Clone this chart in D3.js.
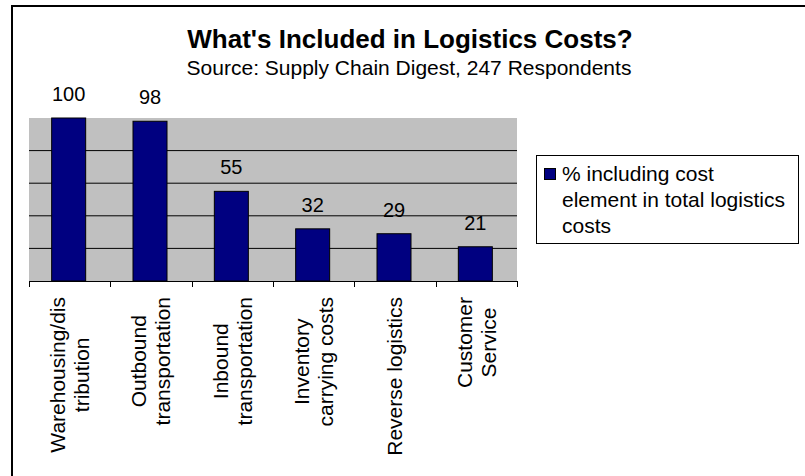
<!DOCTYPE html>
<html>
<head>
<meta charset="utf-8">
<script src="https://cdn.jsdelivr.net/npm/d3@7"></script>
<style>
  body { margin: 0; background: #fff; }
  svg text { font-family: "Liberation Sans", Arial, sans-serif; fill: #000; }
</style>
</head>
<body>
<svg id="chart" width="805" height="476"></svg>
<script>
// data
const categories = ["Warehousing/distribution", "Outbound transportation", "Inbound transportation",
  "Inventory carrying costs", "Reverse logistics", "Customer Service"];
const catLines = [["Warehousing/dis", "tribution"], ["Outbound", "transportation"], ["Inbound", "transportation"],
  ["Inventory", "carrying costs"], ["Reverse logistics"], ["Customer", "Service"]];
const values = [100, 98, 55, 32, 29, 21];
const gridValues = [20, 40, 60, 80];
const titleText = "What's Included in Logistics Costs?";
const subtitleText = "Source: Supply Chain Digest, 247 Respondents";
const legendLines = ["% including cost", "element in total logistics", "costs"];

const svg = d3.select("#chart");

// outer chart frame (cut off at right/bottom like the original)
svg.append("rect")
  .attr("x", 12).attr("y", 6).attr("width", 900).attr("height", 600)
  .attr("fill", "#fff").attr("stroke", "#000").attr("stroke-width", 2);

const plot = { left: 29, right: 517, top: 118, bottom: 281 };

const x = d3.scaleBand().domain(categories).range([plot.left, plot.right]).padding(0);
const y = d3.scaleLinear().domain([0, 100]).range([plot.bottom, plot.top]);
const barW = 34;

// gray plot area
svg.append("rect")
  .attr("x", plot.left).attr("y", plot.top)
  .attr("width", plot.right - plot.left).attr("height", plot.bottom - plot.top)
  .attr("fill", "#c0c0c0");

// gridlines
svg.selectAll(".grid").data(gridValues).enter().append("line")
  .attr("class", "grid")
  .attr("x1", plot.left).attr("x2", plot.right)
  .attr("y1", d => y(d)).attr("y2", d => y(d))
  .attr("stroke", "#000").attr("stroke-width", 1);

// bars
svg.selectAll(".bar").data(values).enter().append("rect")
  .attr("class", "bar")
  .attr("x", (d, i) => x(categories[i]) + x.bandwidth() / 2 - barW / 2 - 1)
  .attr("y", d => y(d))
  .attr("width", barW)
  .attr("height", d => y(0) - y(d))
  .attr("fill", "#000080").attr("stroke", "#000").attr("stroke-width", 1);

// value labels
svg.selectAll(".val").data(values).enter().append("text")
  .attr("class", "val")
  .attr("x", (d, i) => x(categories[i]) + x.bandwidth() / 2 - 1)
  .attr("y", d => y(d) - 17)
  .attr("text-anchor", "middle")
  .style("font-size", "20px")
  .text(d => d);

// x axis line + ticks at band edges
svg.append("line")
  .attr("x1", plot.left).attr("x2", plot.right)
  .attr("y1", plot.bottom + 0.5).attr("y2", plot.bottom + 0.5)
  .attr("stroke", "#000");
const edges = categories.map(c => x(c)).concat([x(categories[categories.length - 1]) + x.bandwidth()]);
svg.selectAll(".tick").data(edges).enter().append("line")
  .attr("class", "tick")
  .attr("x1", d => Math.round(d) + 0.5).attr("x2", d => Math.round(d) + 0.5)
  .attr("y1", plot.bottom).attr("y2", plot.bottom + 6)
  .attr("stroke", "#000");

// rotated category labels, top-aligned block, lines centred in block
const lineGap = 24;
catLines.forEach((lines, i) => {
  const cx = x(categories[i]) + x.bandwidth() / 2;
  const g = svg.append("g");
  const texts = g.selectAll("text").data(lines).enter().append("text")
    .style("font-size", "21px")
    .attr("text-anchor", "middle")
    .attr("dy", "0.35em")
    .text(d => d);
  let maxLen = 0;
  texts.each(function () { maxLen = Math.max(maxLen, this.getComputedTextLength()); });
  const cy = 297 + maxLen / 2;
  texts.attr("transform", (d, j) => {
    const lx = cx + (j - (lines.length - 1) / 2) * lineGap;
    return `translate(${lx},${cy}) rotate(-90)`;
  });
});

// titles
svg.append("text")
  .attr("x", 410).attr("y", 48)
  .attr("text-anchor", "middle")
  .style("font-size", "26px").style("font-weight", "bold")
  .text(titleText);
svg.append("text")
  .attr("x", 409).attr("y", 75)
  .attr("text-anchor", "middle")
  .style("font-size", "21px")
  .text(subtitleText);

// legend
const legend = svg.append("g");
legend.append("rect")
  .attr("x", 536.5).attr("y", 155.5).attr("width", 262).attr("height", 88)
  .attr("fill", "#fff").attr("stroke", "#000").attr("stroke-width", 1);
legend.append("rect")
  .attr("x", 544.5).attr("y", 168.5).attr("width", 11).attr("height", 11)
  .attr("fill", "#000080").attr("stroke", "#000");
legend.selectAll("text").data(legendLines).enter().append("text")
  .attr("x", 562)
  .attr("y", (d, i) => 181 + i * 26)
  .style("font-size", "21px")
  .text(d => d);
</script>
</body>
</html>
